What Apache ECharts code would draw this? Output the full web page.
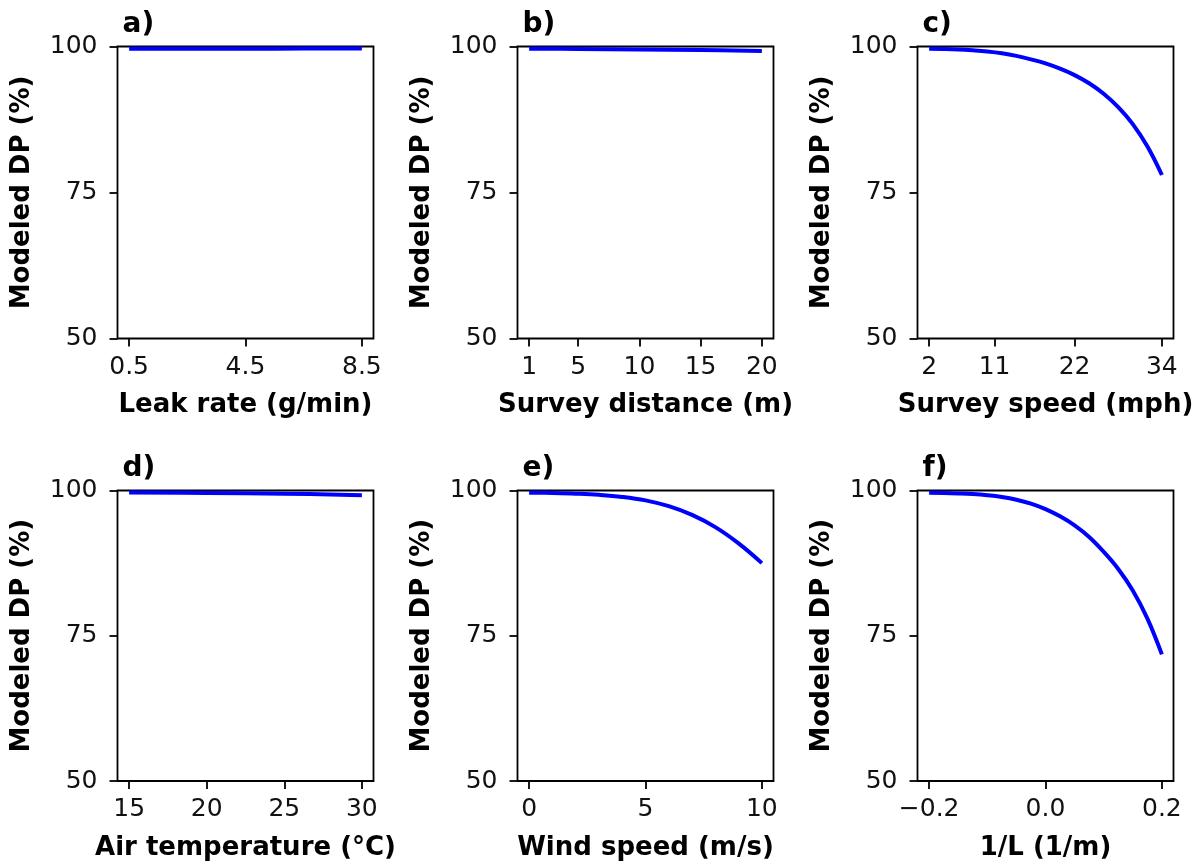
<!DOCTYPE html>
<html>
<head>
<meta charset="utf-8">
<script src="https://cdn.jsdelivr.net/npm/echarts@6/dist/echarts.min.js"></script>
<style>
html,body{margin:0;padding:0;background:#fff;}
#chart{width:1204px;height:865px;}
</style>
</head>
<body>
<div id="chart"></div>
<script>
// ---------- data ----------
const panelLabels = ['a)', 'b)', 'c)', 'd)', 'e)', 'f)'];
const xTitles = ['Leak rate (g/min)', 'Survey distance (m)', 'Survey speed (mph)',
                 'Air temperature (°C)', 'Wind speed (m/s)', '1/L (1/m)'];
const yTitle = 'Modeled DP (%)';
const yTicks = [50, 75, 100];

const xTicksA = [0.5, 4.5, 8.5];
const xTickLabelsA = ['0.5', '4.5', '8.5'];
const xTicksB = [1, 5, 10, 15, 20];
const xTickLabelsB = ['1', '5', '10', '15', '20'];
const xTicksC = [2, 11, 22, 34];
const xTickLabelsC = ['2', '11', '22', '34'];
const xTicksD = [15, 20, 25, 30];
const xTickLabelsD = ['15', '20', '25', '30'];
const xTicksE = [0, 5, 10];
const xTickLabelsE = ['0', '5', '10'];
const xTicksF = [-0.2, 0.0, 0.2];
const xTickLabelsF = ['\u22120.2', '0.0', '0.2'];

const leakRate = [0.5, 2.5, 4.5, 6.5, 8.5];
const dpLeakRate = [99.6, 99.61, 99.62, 99.64, 99.65];

const surveyDistance = [1, 5, 10, 15, 20];
const dpSurveyDistance = [99.63, 99.58, 99.5, 99.4, 99.25];

const surveySpeed = [2, 4, 6, 8, 10, 12, 14, 16, 18, 20, 22, 24, 26, 28, 30, 32, 34];
const dpSurveySpeed = [99.62, 99.58, 99.5, 99.35, 99.15, 98.85, 98.4, 97.8, 97.1, 96.2, 95.1,
                       93.7, 91.9, 89.6, 86.7, 82.9, 78.0];

const airTemp = [15, 20, 25, 30];
const dpAirTemp = [99.65, 99.58, 99.45, 99.2];

const windSpeed = [0, 1, 2, 3, 4, 5, 6, 7, 8, 9, 10];
const dpWindSpeed = [99.6, 99.58, 99.45, 99.25, 98.9, 98.3, 97.3, 95.8, 93.7, 90.9, 87.5];

const invL = [-0.2, -0.175, -0.15, -0.125, -0.1, -0.075, -0.05, -0.025, 0, 0.025, 0.05,
              0.075, 0.1, 0.125, 0.15, 0.175, 0.2];
const dpInvL = [99.62, 99.58, 99.5, 99.38, 99.18, 98.88, 98.42, 97.75, 96.8, 95.55, 94.0,
                92.0, 89.45, 86.5, 82.8, 78.0, 71.8];

const panels = [
  {x: leakRate, y: dpLeakRate, ticks: xTicksA, labels: xTickLabelsA},
  {x: surveyDistance, y: dpSurveyDistance, ticks: xTicksB, labels: xTickLabelsB},
  {x: surveySpeed, y: dpSurveySpeed, ticks: xTicksC, labels: xTickLabelsC},
  {x: airTemp, y: dpAirTemp, ticks: xTicksD, labels: xTickLabelsD},
  {x: windSpeed, y: dpWindSpeed, ticks: xTicksE, labels: xTickLabelsE},
  {x: invL, y: dpInvL, ticks: xTicksF, labels: xTickLabelsF}
];

// ---------- layout ----------
const lefts = [117.5, 517.5, 917.5];
const tops = [46.5, 490.5];
const gw = 256, ghs = [292, 290.5];
const FONT = 'DejaVu Sans';

const grid = [], xAxis = [], yAxis = [], series = [], title = [];
panels.forEach((p, i) => {
  const col = i % 3, row = Math.floor(i / 3);
  grid.push({left: lefts[col], top: tops[row], width: gw, height: ghs[row],
             show: true, borderColor: '#000', borderWidth: 1.8, backgroundColor: 'transparent',
             containLabel: false});
  const xmin = Math.min(...p.x), xmax = Math.max(...p.x), r = xmax - xmin;
  xAxis.push({
    type: 'value', gridIndex: i, min: xmin - 0.05 * r, max: xmax + 0.05 * r,
    name: xTitles[i], nameLocation: 'middle', nameGap: 54,
    nameTextStyle: {fontFamily: FONT, fontWeight: 'bold', fontSize: 26, color: '#000'},
    axisLine: {show: false, onZero: false},
    splitLine: {show: false},
    axisTick: {show: true, inside: false, length: 8, customValues: p.ticks,
               lineStyle: {color: '#000', width: 1.8}},
    axisLabel: {show: true, margin: 16, customValues: p.ticks,
                fontFamily: FONT, fontSize: 25, color: '#111',
                formatter: function (v) {
                  for (let k = 0; k < p.ticks.length; k++) {
                    if (Math.abs(p.ticks[k] - v) < 1e-9) return p.labels[k];
                  }
                  return '';
                }}
  });
  yAxis.push({
    type: 'value', gridIndex: i, min: yTicks[0], max: yTicks[yTicks.length - 1],
    interval: yTicks[1] - yTicks[0],
    name: yTitle, nameLocation: 'middle', nameGap: 82,
    nameTextStyle: {fontFamily: FONT, fontWeight: 'bold', fontSize: 26, color: '#000'},
    axisLine: {show: false, onZero: false},
    splitLine: {show: false},
    axisTick: {show: true, inside: false, length: 8, lineStyle: {color: '#000', width: 1.8}},
    axisLabel: {show: true, margin: 20, fontFamily: FONT, fontSize: 25, color: '#111'}
  });
  series.push({
    type: 'line', xAxisIndex: i, yAxisIndex: i,
    data: p.x.map((xv, k) => [xv, p.y[k]]),
    smooth: 0.4, showSymbol: false, symbol: 'none',
    lineStyle: {color: '#0000ff', width: 4, cap: 'butt'},
    clip: false
  });
  title.push({
    text: panelLabels[i], left: lefts[col], top: tops[row] - 41,
    textStyle: {fontFamily: FONT, fontWeight: 'bold', fontSize: 28, color: '#000'}
  });
});

const chart = echarts.init(document.getElementById('chart'), null, {renderer: 'canvas'});
chart.setOption({
  animation: false,
  backgroundColor: '#fff',
  title, grid, xAxis, yAxis, series
});
</script>
</body>
</html>
